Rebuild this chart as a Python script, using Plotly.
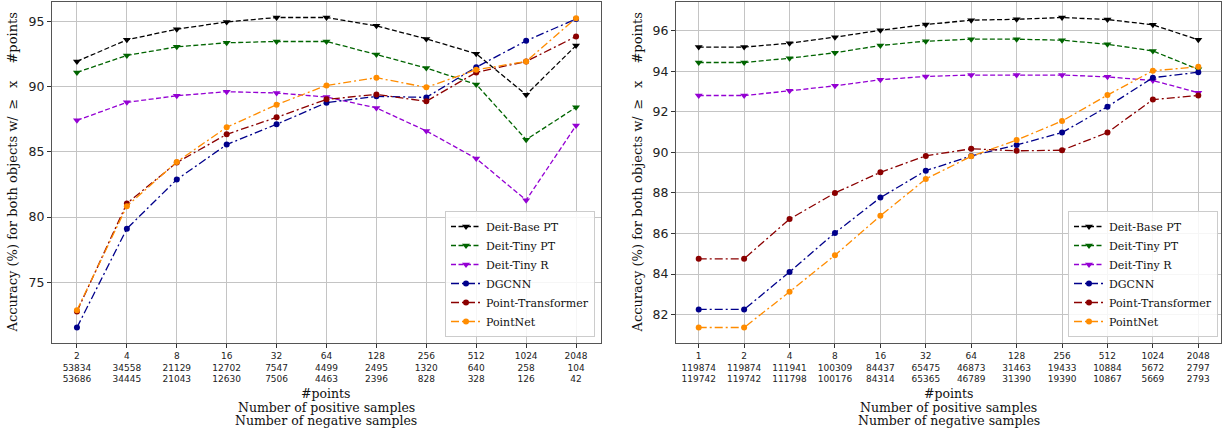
import plotly.graph_objects as go

# ---------------- data: left panel ----------------
pts_left = [2, 4, 8, 16, 32, 64, 128, 256, 512, 1024, 2048]
pos_left = [53834, 34558, 21129, 12702, 7547, 4499, 2495, 1320, 640, 258, 104]
neg_left = [53686, 34445, 21043, 12630, 7506, 4463, 2396, 828, 328, 126, 42]

left_deit_base_pt = [91.94, 93.60, 94.41, 94.97, 95.31, 95.31, 94.67, 93.67, 92.53, 89.39, 93.16]
left_deit_tiny_pt = [91.10, 92.40, 93.06, 93.37, 93.47, 93.47, 92.47, 91.43, 90.18, 85.94, 88.42]
left_deit_tiny_r = [87.42, 88.80, 89.31, 89.62, 89.52, 89.21, 88.37, 86.61, 84.49, 81.30, 87.02]
left_dgcnn = [71.53, 79.11, 82.88, 85.56, 87.12, 88.78, 89.26, 89.18, 91.50, 93.52, 95.20]
left_point_transformer = [72.76, 81.05, 84.18, 86.35, 87.65, 89.03, 89.41, 88.88, 91.10, 91.94, 93.85]
left_pointnet = [72.86, 80.84, 84.23, 86.89, 88.62, 90.10, 90.69, 89.95, 91.30, 91.94, 95.26]

# ---------------- data: right panel ----------------
pts_right = [1, 2, 4, 8, 16, 32, 64, 128, 256, 512, 1024, 2048]
pos_right = [119874, 119874, 111941, 100309, 84437, 65475, 46873, 31463, 19433, 10884, 5672, 2797]
neg_right = [119742, 119742, 111798, 100176, 84314, 65365, 46789, 31390, 19390, 10867, 5669, 2793]

right_deit_base_pt = [95.20, 95.20, 95.39, 95.69, 96.03, 96.31, 96.53, 96.57, 96.66, 96.56, 96.30, 95.56]
right_deit_tiny_pt = [94.44, 94.44, 94.65, 94.92, 95.28, 95.49, 95.59, 95.59, 95.54, 95.34, 95.01, 94.10]
right_deit_tiny_r = [92.81, 92.81, 93.04, 93.29, 93.59, 93.75, 93.82, 93.82, 93.82, 93.73, 93.55, 92.95]
right_dgcnn = [82.25, 82.25, 84.10, 86.03, 87.77, 89.10, 89.83, 90.37, 90.98, 92.26, 93.69, 93.96]
right_point_transformer = [84.75, 84.75, 86.71, 88.00, 89.02, 89.83, 90.18, 90.08, 90.11, 90.98, 92.61, 92.81]
right_pointnet = [81.36, 81.36, 83.12, 84.93, 86.87, 88.69, 89.81, 90.61, 91.55, 92.83, 94.03, 94.23]

series_names = ["Deit-Base PT", "Deit-Tiny PT", "Deit-Tiny R", "DGCNN", "Point-Transformer", "PointNet"]
y_title = "Accuracy (%) for both objects w/\u2009 \u2265\u2002 x\u2003 #points"
x_title_lines = ["#points", "Number of positive samples", "Number of negative samples"]

# ---------------- styles ----------------
colors = ["#000000", "#006400", "#9400D3", "#00008B", "#8B0000", "#FF8C00"]
dashes = ["5px,2.5px"] * 3 + ["8px,3px,2px,3px"] * 3
symbols = ["triangle-down"] * 3 + ["circle"] * 3
msizes = [7, 7, 7, 6, 6, 6]

W, H = 1225, 429
SERIF = "DejaVu Serif"
SANS = "DejaVu Sans"

left_series = [left_deit_base_pt, left_deit_tiny_pt, left_deit_tiny_r,
               left_dgcnn, left_point_transformer, left_pointnet]
right_series = [right_deit_base_pt, right_deit_tiny_pt, right_deit_tiny_r,
                right_dgcnn, right_point_transformer, right_pointnet]

fig = go.Figure()

panels = [
    dict(pts=pts_left, pos=pos_left, neg=neg_left, series=left_series,
         xa="x", ya="y", legend="legend", px=(52, 601)),
    dict(pts=pts_right, pos=pos_right, neg=neg_right, series=right_series,
         xa="x2", ya="y2", legend="legend2", px=(676, 1221)),
]

for p in panels:
    cats = [str(v) for v in p["pts"]]
    for i, name in enumerate(series_names):
        fig.add_trace(go.Scatter(
            x=cats, y=p["series"][i], name=name, mode="lines+markers",
            xaxis=p["xa"], yaxis=p["ya"], legend=p["legend"],
            line=dict(color=colors[i], width=1.3, dash=dashes[i]),
            marker=dict(color=colors[i], symbol=symbols[i], size=msizes[i]),
        ))

top_px, bot_px = 2, 343
ydom = [1 - bot_px / H, 1 - top_px / H]

def yrange(series):
    allv = [v for s in series for v in s]
    lo, hi = min(allv), max(allv)
    pad = 0.05 * (hi - lo)
    return [lo - pad, hi + pad]

axis_common = dict(
    showgrid=True, gridcolor="#c4c4c4", gridwidth=1,
    showline=True, linecolor="#555555", linewidth=1, mirror=True,
    ticks="outside", ticklen=4, tickcolor="#333333", zeroline=False,
    automargin=False,
)

layout = dict(
    width=W, height=H, margin=dict(l=0, r=0, t=0, b=0),
    paper_bgcolor="white", plot_bgcolor="white", showlegend=True,
)

for k, p in enumerate(panels):
    cats = [str(v) for v in p["pts"]]
    ticktext = [f"{a}<br>{b}<br>{c}" for a, b, c in zip(p["pts"], p["pos"], p["neg"])]
    xname = "xaxis" if k == 0 else "xaxis2"
    yname = "yaxis" if k == 0 else "yaxis2"
    layout[xname] = dict(
        axis_common, type="category", domain=[p["px"][0] / W, p["px"][1] / W],
        range=[-0.5, len(cats) - 0.5], tickvals=cats, ticktext=ticktext,
        tickfont=dict(family=SANS, size=9, color="#222222"),
        anchor="y" if k == 0 else "y2",
    )
    yr = yrange(p["series"])
    layout[yname] = dict(
        axis_common, domain=ydom, range=yr,
        dtick=5 if k == 0 else 2,
        tickfont=dict(family=SANS, size=12.5, color="#222222"),
        anchor="x" if k == 0 else "x2",
    )

leg_common = dict(
    font=dict(family=SERIF, size=11, color="#111111"),
    bgcolor="rgba(255,255,255,0.85)", bordercolor="#cccccc", borderwidth=1,
    xanchor="right", yanchor="bottom", itemwidth=30, tracegroupgap=0,
)
layout["legend"] = dict(leg_common, x=595 / W, y=1 - 337 / H)
layout["legend2"] = dict(leg_common, x=1218 / W, y=1 - 337 / H)

annotations = []
title_y_px = [393.3, 407.3, 420.7]
for p in panels:
    cx = (p["px"][0] + p["px"][1]) / 2 / W
    for line, ypx in zip(x_title_lines, title_y_px):
        annotations.append(dict(
            text=line, xref="paper", yref="paper", x=cx, y=1 - ypx / H,
            xanchor="center", yanchor="middle", showarrow=False,
            font=dict(family=SERIF, size=12.5, color="#111111"),
        ))
for xc in (12, 637):
    annotations.append(dict(
        text=y_title, xref="paper", yref="paper", x=xc / W, y=1 - 172.5 / H,
        xanchor="center", yanchor="middle", showarrow=False, textangle=-90,
        font=dict(family=SERIF, size=13, color="#111111"),
    ))
layout["annotations"] = annotations

fig.update_layout(**layout)
fig.write_html("out.html")
